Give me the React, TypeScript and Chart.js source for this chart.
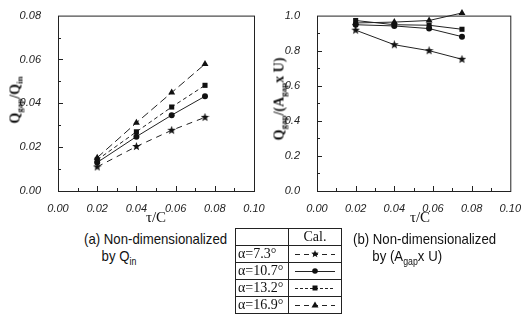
import React, { useEffect, useRef } from "react";
import { Chart, registerables } from "chart.js";

Chart.register(...registerables);

// ---- data ----
const tauC = [0.02, 0.04, 0.058, 0.075];
const seriesNames = ["α=7.3°", "α=10.7°", "α=13.2°", "α=16.9°"];
// (a) Qgap / Qin
const qinA73 = [0.011, 0.0203, 0.0277, 0.0336];
const qinA107 = [0.013, 0.0248, 0.0346, 0.0432];
const qinA132 = [0.0142, 0.027, 0.0383, 0.0482];
const qinA169 = [0.0152, 0.0311, 0.0449, 0.0579];
// (b) Qgap / (Agap x U)
const auA73 = [0.917, 0.834, 0.8, 0.751];
const auA107 = [0.948, 0.941, 0.926, 0.88];
const auA132 = [0.972, 0.948, 0.945, 0.922];
const auA169 = [0.958, 0.963, 0.972, 1.015];
// ticks
const xMax = 0.1;
const leftYMax = 0.08;
const rightYMax = 1.0;

function makeStar(size: number): HTMLCanvasElement {
  const c = document.createElement("canvas");
  c.width = size;
  c.height = size;
  const g = c.getContext("2d")!;
  const cx = size / 2, cy = size / 2, R = size / 2, r = R * 0.42;
  g.beginPath();
  for (let i = 0; i < 10; i++) {
    const rad = i % 2 === 0 ? R : r;
    const a = -Math.PI / 2 + (i * Math.PI) / 5;
    const px = cx + rad * Math.cos(a), py = cy + rad * Math.sin(a);
    if (i === 0) g.moveTo(px, py); else g.lineTo(px, py);
  }
  g.closePath();
  g.fillStyle = "#111";
  g.fill();
  return c;
}

const framePlugin = (minorX: number, minorY: number) => ({
  id: "frameTicks",
  afterDraw(chart: any) {
    const { ctx, chartArea: ca, scales } = chart;
    ctx.save();
    ctx.strokeStyle = "#222";
    ctx.lineWidth = 1;
    ctx.strokeRect(ca.left + 0.5, ca.top + 0.5, ca.right - ca.left, ca.bottom - ca.top);
    ctx.beginPath();
    const xs = scales.x, ys = scales.y;
    const nx = Math.round((xs.max - xs.min) / minorX);
    for (let i = 1; i < nx; i++) {
      const px = Math.round(xs.getPixelForValue(xs.min + i * minorX)) + 0.5;
      const len = i % 2 === 0 ? 5 : 3;
      ctx.moveTo(px, ca.bottom);
      ctx.lineTo(px, ca.bottom - len);
    }
    const ny = Math.round((ys.max - ys.min) / minorY);
    for (let i = 1; i < ny; i++) {
      const py = Math.round(ys.getPixelForValue(ys.min + i * minorY)) + 0.5;
      const len = i % 2 === 0 ? 5 : 3;
      ctx.moveTo(ca.left, py);
      ctx.lineTo(ca.left + len, py);
    }
    ctx.stroke();
    ctx.restore();
  },
});

function buildChart(
  canvas: HTMLCanvasElement,
  series: number[][],
  dashes: number[][],
  yMax: number,
  yStep: number,
  yDecimals: number,
  yWidth: number,
  rightPad: number,
  star: HTMLCanvasElement
) {
  const styles: any[] = [star, "circle", "rect", "triangle"];
  const radii = [4, 3, 3.6, 4];
  const datasets = series.map((vals, i) => ({
    label: seriesNames[i],
    data: tauC.map((x, j) => ({ x, y: vals[j] })),
    borderColor: "#222",
    backgroundColor: "#111",
    borderWidth: 1,
    borderDash: dashes[i],
    pointStyle: styles[i],
    pointRadius: radii[i],
    pointBorderWidth: 0,
    pointBackgroundColor: "#111",
    tension: 0,
    clip: false as any,
  }));
  const tickFont = { family: "'Liberation Sans', Arial, sans-serif", size: 11, style: "italic" };
  return new Chart(canvas, {
    type: "line",
    data: { datasets },
    plugins: [framePlugin(xMax / 10, yStep / 2)],
    options: {
      responsive: false,
      maintainAspectRatio: false,
      animation: false,
      layout: { padding: { top: 10, right: rightPad, left: 0, bottom: 0 } },
      plugins: { legend: { display: false }, tooltip: { enabled: false } },
      scales: {
        x: {
          type: "linear",
          min: 0,
          max: xMax,
          grid: { display: false },
          border: { display: false },
          afterFit: (s: any) => { s.height = 34; },
          ticks: {
            stepSize: 0.02,
            padding: 3,
            color: "#222",
            font: tickFont,
            callback: (v: any) => Number(v).toFixed(2),
          },
        },
        y: {
          type: "linear",
          min: 0,
          max: yMax,
          grid: { display: false },
          border: { display: false },
          afterFit: (s: any) => { s.width = yWidth; },
          ticks: {
            stepSize: yStep,
            padding: 9,
            color: "#222",
            font: tickFont,
            callback: (v: any) => Number(v).toFixed(yDecimals),
          },
        },
      },
    } as any,
  });
}

const serif = "'Liberation Serif', 'Times New Roman', serif";
const sans = "'Liberation Sans', Arial, sans-serif";

function LegendSample({ kind }: { kind: number }) {
  const dash = ["5 4", "", "3 2", "5 4"][kind];
  const y = 8;
  let marker: React.ReactNode = null;
  if (kind === 0) {
    const pts: string[] = [];
    for (let i = 0; i < 10; i++) {
      const rad = i % 2 === 0 ? 4 : 1.7;
      const a = -Math.PI / 2 + (i * Math.PI) / 5;
      pts.push(`${26 + rad * Math.cos(a)},${y + rad * Math.sin(a)}`);
    }
    marker = <polygon points={pts.join(" ")} fill="#111" />;
  } else if (kind === 1) marker = <circle cx={26} cy={y} r={2.8} fill="#111" />;
  else if (kind === 2) marker = <rect x={23.5} y={y - 2.5} width={5} height={5} fill="#111" />;
  else marker = <polygon points={`26,${y - 3.5} 29.5,${y + 2.5} 22.5,${y + 2.5}`} fill="#111" />;
  return (
    <svg width={52} height={16} style={{ display: "block", margin: "0 auto" }}>
      <line x1={6} y1={y + 0.5} x2={46} y2={y + 0.5} stroke="#222" strokeWidth={1} strokeDasharray={dash} />
      {marker}
    </svg>
  );
}

export default function App() {
  const leftRef = useRef<HTMLCanvasElement>(null);
  const rightRef = useRef<HTMLCanvasElement>(null);

  useEffect(() => {
    const star = makeStar(9);
    const c1 = buildChart(
      leftRef.current!,
      [qinA73, qinA107, qinA132, qinA169],
      [[6, 5], [], [4, 3], [8, 4]],
      leftYMax, 0.02, 2, 58, 16, star
    );
    const c2 = buildChart(
      rightRef.current!,
      [auA73, auA107, auA132, auA169],
      [[], [], [], []],
      rightYMax, 0.2, 1, 55, 10, star
    );
    return () => { c1.destroy(); c2.destroy(); };
  }, []);

  const cell: React.CSSProperties = { border: "1px solid #222", padding: 0, height: 16 };
  const sub: React.CSSProperties = { fontSize: 9, verticalAlign: "-3px", lineHeight: 0 };
  const yTitle: React.CSSProperties = {
    position: "absolute", transform: "translate(-50%,-50%) rotate(-90deg)", whiteSpace: "nowrap",
    fontFamily: serif, fontWeight: "bold", fontSize: 14, color: "#111", lineHeight: "15px",
  };
  const caption: React.CSSProperties = {
    position: "absolute", top: 230, fontFamily: sans, fontSize: 15, color: "#111", whiteSpace: "nowrap",
    lineHeight: "17px", transform: "scaleX(0.88)", transformOrigin: "left top",
  };

  return (
    <div style={{ position: "fixed", left: 0, top: 0, width: 524, height: 336, background: "#fff", overflow: "hidden" }}>
      <canvas ref={leftRef} width={270} height={225} style={{ position: "absolute", left: 0, top: 0, width: 270, height: 225 }} />
      <canvas ref={rightRef} width={262} height={225} style={{ position: "absolute", left: 262, top: 0, width: 262, height: 225 }} />

      {/* y titles */}
      <div style={{ ...yTitle, left: 15, top: 100 }}>
        Q<sub style={sub}>gap</sub>/Q<sub style={sub}>in</sub>
      </div>
      <div style={{ ...yTitle, left: 279, top: 99 }}>
        Q<sub style={sub}>gap</sub>/(A<sub style={sub}>gap</sub>x U)
      </div>

      {/* x titles */}
      <div style={{ position: "absolute", left: 156, top: 217, transform: "translate(-50%,-50%)", fontFamily: serif, fontSize: 15, color: "#111" }}>τ/C</div>
      <div style={{ position: "absolute", left: 420, top: 217, transform: "translate(-50%,-50%)", fontFamily: serif, fontSize: 15, color: "#111" }}>τ/C</div>

      {/* captions */}
      <div style={{ ...caption, left: 84 }}>
        (a) Non-dimensionalized<br />
        <span style={{ paddingLeft: 20 }}>by Q<sub style={{ fontSize: 10, lineHeight: 0 }}>in</sub></span>
      </div>
      <div style={{ ...caption, left: 353 }}>
        (b) Non-dimensionalized<br />
        <span style={{ paddingLeft: 22 }}>by (A<sub style={{ fontSize: 10, lineHeight: 0 }}>gap</sub>x U)</span>
      </div>

      {/* legend table */}
      <table style={{ position: "absolute", left: 235, top: 228, borderCollapse: "collapse", fontFamily: serif, fontSize: 14, color: "#111" }}>
        <tbody>
          <tr>
            <td style={{ ...cell, width: 52 }}></td>
            <td style={{ ...cell, width: 52, textAlign: "center" }}>Cal.</td>
          </tr>
          {seriesNames.map((n, i) => (
            <tr key={n}>
              <td style={{ ...cell, paddingLeft: 2 }}>{n}</td>
              <td style={cell}><LegendSample kind={i} /></td>
            </tr>
          ))}
        </tbody>
      </table>
    </div>
  );
}
